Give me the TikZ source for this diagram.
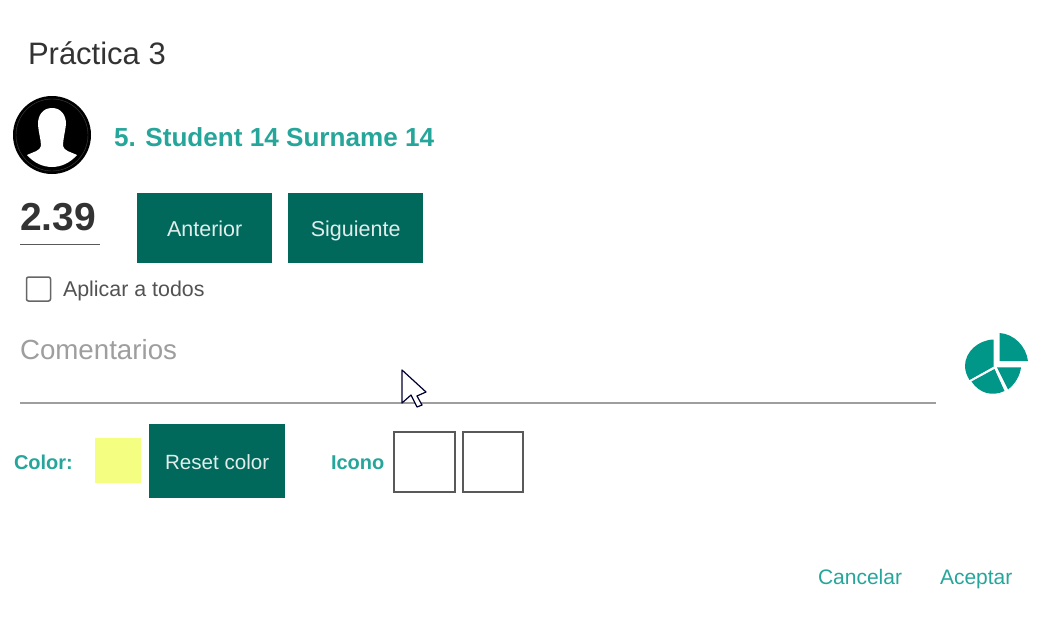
\documentclass[tikz,border=0pt]{standalone}
\usepackage{fontspec}
\setmainfont{Liberation Sans}
\definecolor{btn}{HTML}{00695C}
\definecolor{teal}{HTML}{26A69A}
\definecolor{pie}{HTML}{009688}
\definecolor{ink}{HTML}{333333}
\definecolor{hint}{HTML}{9E9E9E}
\definecolor{swatch}{HTML}{F4FF81}
\tikzset{
  x=1pt,y=-1pt,
  lbl/.style={anchor=base west,inner sep=0pt,outer sep=0pt},
  sz/.style={font=\fontsize{#1}{#1}\selectfont},
  tealb/.style={lbl,text=teal,font=\bfseries\fontsize{#1}{#1}\selectfont},
  btnbox/.style={fill=btn,text=white!88!btn,inner sep=0pt,anchor=north west,text height=17pt,text depth=0pt,font=\fontsize{#1}{#1}\selectfont},
  iconbox/.style={draw=black!65,line width=2pt,fill=white,inner sep=0pt,anchor=north west,minimum height=60pt},
  rule/.style={draw=black!38,line width=1.4pt},
}
\begin{document}
\begin{tikzpicture}
\useasboundingbox (0,0) rectangle (1039,618);
\fill[white] (0,0) rectangle (1039,618);
% title
\node[lbl,text=ink,sz=31] (title) at (28,65) {Práctica 3};
% avatar
\node[circle,fill=black,minimum size=78pt,inner sep=0pt] (avatar) at (52,135) {};
\draw[white,line width=0.4pt,opacity=.25] (avatar.center) circle (36pt);
\fill[white] (52,108) .. controls (43,108) and (38,115) .. (38,124)
  .. controls (38.5,133) and (41,139) .. (41,146)
  .. controls (40,151) and (33,152) .. (27,155)
  .. controls (34,163) and (43,167) .. (52,167)
  .. controls (61,167) and (70,163) .. (77,155)
  .. controls (71,152) and (64,151) .. (63,146)
  .. controls (63,139) and (65,133) .. (66,124)
  .. controls (66,115) and (61,108) .. (52,108) -- cycle;
\node[tealb=26.1] (student) at (114,146) {5. Student 14 Surname 14};
% grade
\node[lbl,text=ink,font=\bfseries\fontsize{39}{39}\selectfont] (grade) at (20,230) {2.39};
\coordinate (g1) at (20,244); \coordinate (g2) at (100,244);
\draw[draw=black!65,line width=1pt] (g1) -- (g2);
\node[btnbox=21.5,minimum width=135pt,minimum height=70pt] (prev) at (137,193) {Anterior};
\node[btnbox=21.5,minimum width=135pt,minimum height=70pt] (next) at (288,193) {Siguiente};
% checkbox
\node[draw=black!60,line width=1.5pt,rounded corners=2pt,minimum size=24pt,inner sep=0pt] (check) at (38.5,289) {};
\node[lbl,text=ink!85,sz=21.4] (apply) at (63,296) {Aplicar a todos};
% comments
\node[lbl,text=hint,sz=27.7] (comm) at (20,359) {Comentarios};
\coordinate (c1) at (20,403); \coordinate (c2) at (936,403);
\draw[rule] (c1) -- (c2);
% pie icon
\fill[pie] (999.5,361) -- (999.5,333) .. controls (1014,334) and (1026,346) .. (1028,361) -- cycle;
\fill[pie] (993.7,339.5) .. controls (978,340) and (965,352) .. (965,366)
  .. controls (965,371) and (967,376) .. (969.5,380) -- (993.7,366.5) -- cycle;
\fill[pie] (971.5,381.5) -- (994.5,369) -- (1004.5,391)
  .. controls (992,397) and (979,393) .. (971.5,381.5) -- cycle;
\fill[pie] (997,367.3) -- (1021,367.3) .. controls (1020,376) and (1015,384) .. (1008,389.5) -- cycle;
% colour row
\node[tealb=20] (color) at (14,469) {Color:};
\node[fill=swatch,inner sep=0pt,anchor=north west,minimum width=46pt,minimum height=45pt] (sw) at (95,438) {};
\node[btnbox=20.6,minimum width=136pt,minimum height=74pt] (reset) at (149,424) {Reset color};
\node[tealb=20] (icono) at (331,469) {Icono};
\node[iconbox,minimum width=61pt] (ic1) at (393,431) {};
\node[iconbox,minimum width=60pt] (ic2) at (462,431) {};
% cursor
\draw[fill=white,draw=black!80!blue,line width=1.2pt,line join=round]
  (402,370) -- (402,403) -- (411,395) -- (417,407) -- (422,405) -- (417,396) -- (426,392) -- cycle;
% dialog actions
\node[lbl,text=teal,sz=21] (cancel) at (818,584) {Cancelar};
\node[lbl,text=teal,sz=21] (ok) at (940,584) {Aceptar};
\end{tikzpicture}
\end{document}
